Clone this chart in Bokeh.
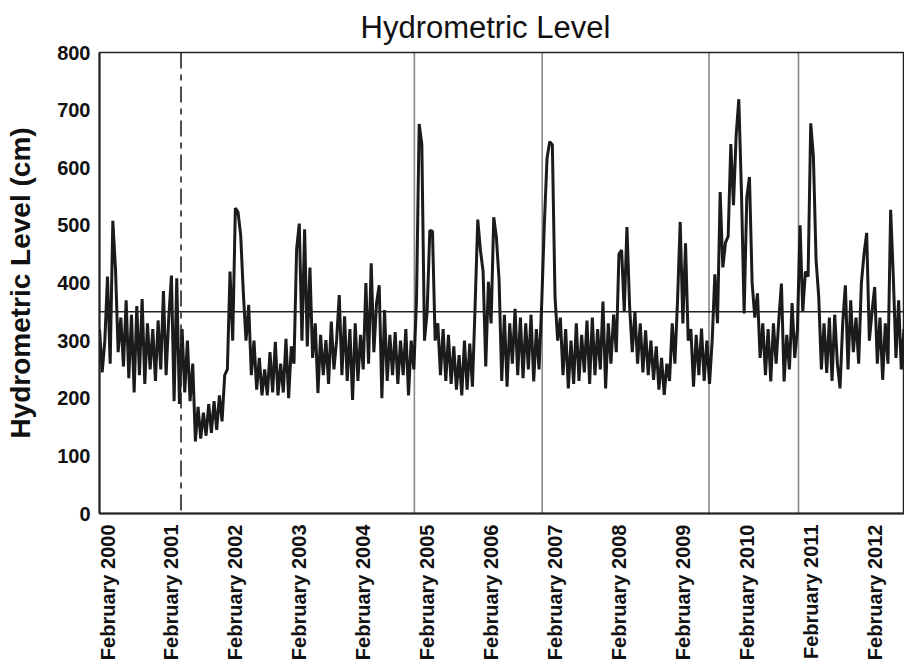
import math
from bokeh.plotting import figure
from bokeh.models import Span, FixedTicker, Range1d
from bokeh.embed import file_html
from bokeh.resources import INLINE

# ---- data ----
# semi-monthly readings; x in months relative to February 2000
start_month = -1.5
step_month = 0.5
level_cm = [
    320, 245, 300, 411, 260, 508, 424, 280, 340, 255,
    370, 235, 345, 210, 360, 240, 372, 225, 330, 250,
    320, 230, 335, 250, 386, 240, 340, 413, 195, 408,
    190, 320, 210, 300, 195, 260, 125, 185, 130, 175,
    135, 190, 140, 195, 145, 205, 160, 240, 250, 420,
    300, 530, 523, 483, 382, 300, 362, 240, 300, 215,
    270, 205, 250, 205, 280, 210, 298, 205, 260, 210,
    303, 200, 290, 260, 459, 503, 300, 493, 290, 427,
    270, 330, 209, 310, 240, 301, 225, 333, 250, 300,
    379, 240, 342, 230, 320, 197, 330, 230, 310, 250,
    400, 260, 434, 280, 365, 396, 200, 353, 230, 310,
    240, 315, 225, 300, 240, 320, 205, 300, 250, 370,
    676, 641, 300, 350, 491, 490, 300, 330, 240, 320,
    230, 310, 225, 290, 215, 275, 205, 300, 215, 295,
    220, 360, 510, 457, 420, 255, 402, 330, 514, 479,
    405, 230, 345, 220, 330, 260, 355, 240, 340, 235,
    330, 250, 345, 229, 320, 250, 364, 503, 616, 645,
    640, 376, 300, 340, 240, 320, 217, 300, 225, 330,
    230, 310, 245, 335, 225, 340, 240, 320, 250, 368,
    217, 330, 260, 345, 280, 450, 457, 350, 497, 360,
    280, 350, 260, 330, 245, 318, 240, 300, 232, 290,
    215, 270, 206, 260, 230, 330, 260, 370, 506, 330,
    469, 300, 320, 220, 310, 240, 321, 230, 300, 225,
    300, 415, 330, 558, 427, 470, 481, 641, 535, 656,
    719, 556, 347, 549, 584, 400, 340, 382, 270, 330,
    240, 320, 229, 330, 260, 335, 399, 229, 310, 250,
    365, 270, 320, 500, 350, 420, 411, 677, 620, 440,
    376, 250, 330, 244, 340, 230, 345, 260, 217, 330,
    396, 250, 370, 280, 340, 260, 399, 450, 487, 300,
    350, 393, 260, 340, 232, 330, 260, 527, 411, 270,
    370, 250, 320, 260,
]
tick_months = [0, 12, 24, 36, 48, 60, 72, 84, 96, 108, 120, 132, 144]
tick_labels = ["February 2000", "February 2001", "February 2002", "February 2003",
               "February 2004", "February 2005", "February 2006", "February 2007",
               "February 2008", "February 2009", "February 2010", "February 2011",
               "February 2012"]
y_ticks = [0, 100, 200, 300, 400, 500, 600, 700, 800]
threshold_cm = 350
event_months = [13.8, 57.6, 81.6, 112.9, 129.7]
event_kinds = ["dashed", "dotted", "dotted", "dotted", "dotted"]

months = [start_month + step_month * i for i in range(len(level_cm))]

FONT = "Liberation Sans"

p = figure(width=904, height=666, output_backend="svg", toolbar_location=None,
           x_range=Range1d(-1.502, 149.6), y_range=Range1d(0, 800),
           min_border_left=99, min_border_right=0, min_border_top=51,
           min_border_bottom=153)
p.background_fill_color = "white"
p.border_fill_color = "white"
p.xgrid.visible = False
p.ygrid.visible = False
p.outline_line_color = "#222222"
p.outline_line_width = 1.5

# title
p.title.text = "Hydrometric Level"
p.title.text_font = FONT
p.title.text_font_size = "31px"
p.title.text_font_style = "normal"
p.title.text_color = "#111111"
p.title.align = "left"
p.title.offset = 261
p.title.standoff = 15

# axes
xa = p.xaxis[0]
xa.ticker = FixedTicker(ticks=tick_months)
xa.major_label_overrides = {m: lab for m, lab in zip(tick_months, tick_labels)}
xa.major_label_orientation = math.pi / 2
xa.major_label_text_font = FONT
xa.major_label_text_font_size = "20px"
xa.major_label_text_font_style = "bold"
xa.major_label_text_color = "#111111"
xa.major_label_standoff = 11
xa.major_tick_out = 0
xa.major_tick_in = 0
xa.minor_tick_out = 0
xa.minor_tick_in = 0
xa.axis_line_width = 2
xa.axis_line_color = "#222222"

ya = p.yaxis[0]
ya.ticker = FixedTicker(ticks=y_ticks)
ya.major_label_text_font = FONT
ya.major_label_text_font_size = "20px"
ya.major_label_text_font_style = "bold"
ya.major_label_text_color = "#111111"
ya.major_label_standoff = 9
ya.major_tick_out = 0
ya.major_tick_in = 0
ya.minor_tick_out = 0
ya.minor_tick_in = 0
ya.axis_line_width = 2
ya.axis_line_color = "#222222"
ya.axis_label = "Hydrometric Level (cm)"
ya.axis_label_text_font = FONT
ya.axis_label_text_font_size = "28px"
ya.axis_label_text_font_style = "bold"
ya.axis_label_text_color = "#111111"
ya.axis_label_standoff = 18

# series
p.line(months, level_cm, line_color="#1b1b1b", line_width=3.0)

# reference lines
p.add_layout(Span(location=threshold_cm, dimension="width",
                  line_color="#222222", line_width=1.6))
for m, kind in zip(event_months, event_kinds):
    if kind == "dashed":
        p.add_layout(Span(location=m, dimension="height", line_color="#222222",
                          line_width=1.6, line_dash="16 6 6 6"))
    else:
        p.add_layout(Span(location=m, dimension="height", line_color="#111111",
                          line_width=1.6, line_dash="1 1"))

open("out.html", "w").write(file_html(p, INLINE))
